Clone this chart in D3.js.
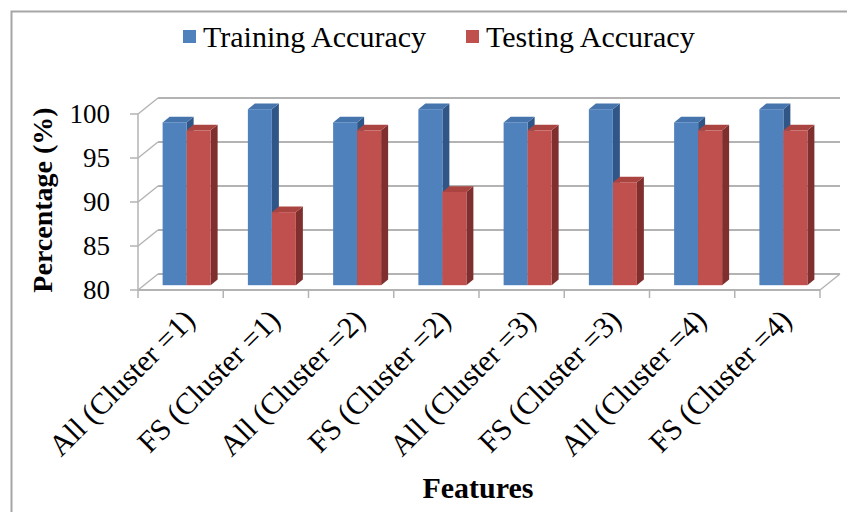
<!DOCTYPE html>
<html>
<head>
<meta charset="utf-8">
<script src="https://cdn.jsdelivr.net/npm/d3@7"></script>
<style>
  body { margin: 0; background: #fff; }
  text { font-family: "Liberation Serif", "Times New Roman", serif; fill: #000; }
</style>
</head>
<body>
<div id="chart-area"></div>
<script>
// Data
var categories = ["All (Cluster =1)", "FS (Cluster =1)", "All (Cluster =2)", "FS (Cluster =2)",
                  "All (Cluster =3)", "FS (Cluster =3)", "All (Cluster =4)", "FS (Cluster =4)"];
var seriesNames = ["Training Accuracy", "Testing Accuracy"];
var trainingAcc = [98.5, 100, 98.5, 100, 98.5, 100, 98.5, 100];
var testingAcc  = [97.6, 88.3, 97.6, 90.6, 97.6, 91.7, 97.6, 97.6];
var yTicks = [80, 85, 90, 95, 100];

var colors = {
  "Training Accuracy": { front: "#4f81bd", top: "#4674ad", side: "#2f5686" },
  "Testing Accuracy":  { front: "#c0504d", top: "#aa4441", side: "#7f2f2d" }
};

var width = 847, height = 512;

// 3D projection: depth vector of the plot box, bars sit between f0 and f1 of it
var depth = { dx: 20, dy: -16 };
var barF0 = 0.3, barF1 = 0.65;

var svg = d3.select("#chart-area")
    .append("svg")
    .attr("width", width)
    .attr("height", height);

// outer frame (cut off at right / bottom)
svg.append("rect")
    .attr("x", 11.5).attr("y", 11.5)
    .attr("width", 900).attr("height", 600)
    .attr("fill", "none")
    .attr("stroke", "#a6a6a6")
    .attr("stroke-width", 2);

// Scales
var x0 = d3.scaleBand().domain(categories).range([138, 820]).padding(0);
var groupW = 48;
var x1 = d3.scaleBand().domain(seriesNames).range([0, groupW]).padding(0);
var y = d3.scaleLinear().domain([80, 100]).range([290, 114]);

var xL = x0.range()[0], xR = x0.range()[1];
var grid = svg.append("g").attr("stroke", "#b3b3b3").attr("fill", "none");

// back wall gridlines
grid.selectAll(".back").data(yTicks).enter().append("line")
    .attr("x1", xL + depth.dx).attr("x2", xR + depth.dx)
    .attr("y1", function(d){ return y(d) + depth.dy; })
    .attr("y2", function(d){ return y(d) + depth.dy; })
    .attr("stroke-width", 2);

// side wall gridlines (diagonals)
grid.selectAll(".side").data(yTicks).enter().append("line")
    .attr("x1", xL).attr("x2", xL + depth.dx)
    .attr("y1", function(d){ return y(d); })
    .attr("y2", function(d){ return y(d) + depth.dy; })
    .attr("stroke-width", 1.5);

// floor edges
grid.append("line").attr("x1", xL).attr("x2", xR)
    .attr("y1", y(80)).attr("y2", y(80)).attr("stroke-width", 2);
grid.append("line").attr("x1", xR).attr("x2", xR + depth.dx)
    .attr("y1", y(80)).attr("y2", y(80) + depth.dy).attr("stroke-width", 1.5);

// y axis line and ticks
grid.append("line").attr("x1", xL).attr("x2", xL)
    .attr("y1", y(100)).attr("y2", y(80)).attr("stroke-width", 1.5);
grid.selectAll(".ytick").data(yTicks).enter().append("line")
    .attr("x1", xL - 8).attr("x2", xL)
    .attr("y1", function(d){ return y(d); })
    .attr("y2", function(d){ return y(d); })
    .attr("stroke-width", 1.5);

// category ticks
var catEdges = categories.map(function(c){ return x0(c); }).concat([xR]);
grid.selectAll(".xtick").data(catEdges).enter().append("line")
    .attr("x1", function(d){ return d; }).attr("x2", function(d){ return d; })
    .attr("y1", y(80)).attr("y2", y(80) + 8)
    .attr("stroke-width", 1.5);

// y tick labels
svg.selectAll(".ylab").data(yTicks).enter().append("text")
    .attr("x", 110)
    .attr("y", function(d){ return y(d); })
    .attr("dy", "0.35em")
    .attr("text-anchor", "end")
    .attr("font-size", "27px")
    .text(function(d){ return d; });

// Bars
var rows = [];
categories.forEach(function(c, i) {
  rows.push({ cat: c, series: "Training Accuracy", value: trainingAcc[i] });
  rows.push({ cat: c, series: "Testing Accuracy", value: testingAcc[i] });
});

var ox0 = depth.dx * barF0, oy0 = depth.dy * barF0;
var bdx = depth.dx * (barF1 - barF0), bdy = depth.dy * (barF1 - barF0);

var bars = svg.selectAll(".bar").data(rows).enter().append("g").attr("class", "bar");

function bx(d) { return x0(d.cat) + (x0.bandwidth() - groupW) / 2 + x1(d.series) + ox0; }

bars.append("path")
    .attr("fill", function(d){ return colors[d.series].side; })
    .attr("d", function(d) {
      var xa = bx(d) + x1.bandwidth(), yt = y(d.value) + oy0, yb = y(80) + oy0;
      return "M" + xa + "," + yt + "L" + (xa + bdx) + "," + (yt + bdy) +
             "L" + (xa + bdx) + "," + (yb + bdy) + "L" + xa + "," + yb + "Z";
    });
bars.append("path")
    .attr("fill", function(d){ return colors[d.series].top; })
    .attr("d", function(d) {
      var xa = bx(d), xb = xa + x1.bandwidth(), yt = y(d.value) + oy0;
      return "M" + xa + "," + yt + "L" + xb + "," + yt +
             "L" + (xb + bdx) + "," + (yt + bdy) + "L" + (xa + bdx) + "," + (yt + bdy) + "Z";
    });
bars.append("rect")
    .attr("fill", function(d){ return colors[d.series].front; })
    .attr("x", bx)
    .attr("y", function(d){ return y(d.value) + oy0; })
    .attr("width", x1.bandwidth())
    .attr("height", function(d){ return y(80) - y(d.value); });

// category labels, rotated
svg.selectAll(".xlab").data(categories).enter().append("text")
    .attr("text-anchor", "end")
    .attr("font-size", "30px")
    .attr("transform", function(d) {
      var cx = x0(d) + x0.bandwidth() / 2 + 16;
      return "translate(" + cx + ",322) rotate(-45)";
    })
    .text(function(d){ return d; });

// axis titles
svg.append("text")
    .attr("transform", "translate(52,200) rotate(-90)")
    .attr("text-anchor", "middle")
    .attr("font-size", "28px")
    .attr("font-weight", "bold")
    .text("Percentage (%)");

svg.append("text")
    .attr("x", 478).attr("y", 498)
    .attr("text-anchor", "middle")
    .attr("font-size", "30px")
    .attr("font-weight", "bold")
    .text("Features");

// Legend
var legendX = { "Training Accuracy": 183, "Testing Accuracy": 466 };
var legend = svg.selectAll(".legend").data(seriesNames).enter().append("g")
    .attr("transform", function(d){ return "translate(" + legendX[d] + ",0)"; });
legend.append("rect")
    .attr("x", 0).attr("y", 30)
    .attr("width", 13).attr("height", 13)
    .attr("fill", function(d){ return colors[d].front; });
legend.append("text")
    .attr("x", 20).attr("y", 47)
    .attr("font-size", "30px")
    .text(function(d){ return d; });
</script>
</body>
</html>
